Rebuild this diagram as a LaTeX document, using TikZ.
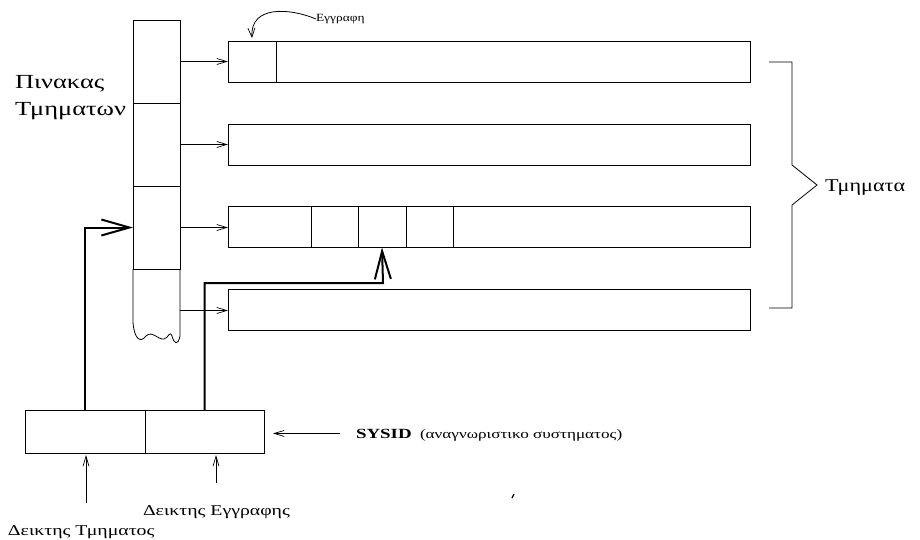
\documentclass[tikz,border=0pt]{standalone}
\usepackage{fontspec}
\setmainfont{Liberation Serif}
\usetikzlibrary{arrows.meta,calc}
\newcommand{\widetxt}[1]{\scalebox{1.32}[1]{#1}}
\tikzset{
  ln/.style={line width=0.8pt},
  cell/.style={draw, line width=0.8pt, minimum width=47pt, minimum height=83pt, inner sep=0pt, outer sep=0pt},
  rowbox/.style={draw, line width=0.8pt, minimum height=41pt, inner sep=0pt, outer sep=0pt},
  thinarr/.style={line width=0.8pt, -{Straight Barb[length=10pt,width=6pt,line width=0.7pt]}},
  thickarr/.style={line width=2pt, -{Straight Barb[length=28pt,width=16pt,line width=2pt]}},
  lbl/.style={inner sep=0pt, outer sep=0pt},
}
\begin{document}
\begin{tikzpicture}[x=1pt,y=-1pt]
\useasboundingbox (0,0) rectangle (920,539);
% segment table
\node[cell] (c1) at (156.5,61.5) {};
\node[cell] (c2) at (156.5,144.5) {};
\node[cell] (c3) at (156.5,227.5) {};
\node[cell, draw=none] (c4) at (156.5,310.5) {};
\draw[ln] (c4.north west) -- (133,322) .. controls (134,338) and (140,344) .. (146,336)
  .. controls (152,330) and (158,340) .. (164,339)
  .. controls (169,338) and (169,330) .. (172,336)
  .. controls (174,344) and (178,346) .. (180,336) -- (c4.north east);
% row boxes
\node[rowbox, minimum width=48pt, anchor=west] (r1a) at (228,61.5) {};
\node[rowbox, minimum width=474pt, anchor=west] (r1b) at (r1a.east) {};
\node[rowbox, minimum width=522pt, anchor=west] (r2) at (228,144.5) {};
\node[rowbox, minimum width=83pt, anchor=west] (r3a) at (228,227) {};
\node[rowbox, minimum width=47pt, anchor=west] (r3b) at (r3a.east) {};
\node[rowbox, minimum width=48pt, anchor=west] (r3c) at (r3b.east) {};
\node[rowbox, minimum width=47pt, anchor=west] (r3d) at (r3c.east) {};
\node[rowbox, minimum width=297pt, anchor=west] (r3e) at (r3d.east) {};
\node[rowbox, minimum width=522pt, anchor=west] (r4) at (228,310) {};
\draw[thinarr] (c1.east) -- (r1a.west);
\draw[thinarr] (c2.east) -- (r2.west);
\draw[thinarr] (c3.east) -- (r3a.west |- c3.east);
\draw[thinarr] (c4.east) -- (r4.west |- c4.east);
% labels
\node[lbl, anchor=base west, font=\fontsize{20}{24}\selectfont] (pin) at (15,88) {\widetxt{Πινακας}};
\node[lbl, anchor=base west, font=\fontsize{20}{24}\selectfont] (tmn) at (15,115) {\widetxt{Τμηματων}};
\node[lbl, anchor=west, font=\fontsize{11}{13}\selectfont] (egr) at (316,19) {\scalebox{1.22}[1]{Εγγραφη}};
\draw[ln, -{Straight Barb[length=9pt,width=7pt,line width=0.7pt]}] (egr.west) .. controls (290,8) and (250,5) .. ([yshift=3pt]r1a.north);
% brace
\node[lbl, anchor=base west, font=\fontsize{18}{22}\selectfont] (tma) at (825,191) {\scalebox{1.23}[1]{Τμηματα}};
\draw[ln] (769,62) -- (792,62) -- (792,165) -- (817,185) -- (792,205) -- (792,308) -- (769,308);
% bottom SYSID box
\node[draw, line width=0.8pt, minimum width=120pt, minimum height=43pt, inner sep=0pt, outer sep=0pt] (b1) at (85,431.5) {};
\node[draw, line width=0.8pt, minimum width=119pt, minimum height=43pt, inner sep=0pt, outer sep=0pt, anchor=west] (b2) at (b1.east) {};
\coordinate (k) at (383,283);
\draw[thickarr] (b1.north) |- (c3.west);
\draw[thickarr] (b2.north) |- (k) -- (r3c.south);
\node[lbl, anchor=base west, font=\fontsize{14}{16}\selectfont\bfseries] (sys) at (356,438) {\scalebox{1.35}[1]{SYSID}};
\node[lbl, anchor=base west, font=\fontsize{13}{16}\selectfont] (desc) at (420,438) {\widetxt{(αναγνωριστικο συστηματος)}};
\draw[thinarr] ([xshift=-16pt]sys.west) -- ([xshift=9pt]b2.east |- sys.west);
\node[lbl, anchor=base west, font=\fontsize{15}{18}\selectfont] (de) at (143,515) {\widetxt{Δεικτης Εγγραφης}};
\node[lbl, anchor=base west, font=\fontsize{15}{18}\selectfont] (dt) at (8,535) {\widetxt{Δεικτης Τμηματος}};
\coordinate (e0) at (216,483);
\coordinate (t0) at (86,503);
\draw[thinarr] (e0) -- ([yshift=-2pt]e0 |- b2.south);
\draw[thinarr] (t0) -- ([yshift=-2pt]t0 |- b1.south);
% stray mark
\draw[line width=1.2pt] (512,498) -- (514,494);
\end{tikzpicture}
\end{document}
